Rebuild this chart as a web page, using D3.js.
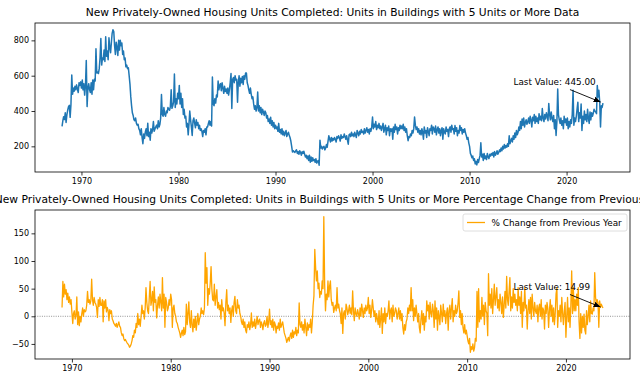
<!DOCTYPE html>
<html><head><meta charset="utf-8">
<script src="https://cdn.jsdelivr.net/npm/d3@7"></script>
<style>
body{margin:0;background:#fff;overflow:hidden;}
svg{display:block;font-family:"DejaVu Sans",sans-serif;}
</style>
</head><body>
<svg id="chart" width="640" height="384"></svg>
<script>
// ---------------- DATA ----------------
const unitsStartYear = 1968;   // monthly, Jan 1968 .. Oct 2023 (thousands of units, SAAR)
const units = [
/*1968*/ 313,345,368,352,390,335,378,405,425,432,364,436,
/*1969*/ 604,495,530,512,540,520,548,525,505,560,545,565,
/*1970*/ 530,575,520,555,490,545,686,425,530,555,520,505,
/*1971*/ 560,495,575,520,580,570,752,615,620,612,640,700,
/*1972*/ 810,660,700,690,745,680,820,710,740,690,815,760,
/*1973*/ 730,790,840,860,850,770,720,790,760,715,800,745,
/*1974*/ 800,770,785,720,740,690,700,650,660,640,645,600,
/*1975*/ 552,480,432,390,375,350,345,360,330,320,325,300,
/*1976*/ 290,265,300,250,215,270,245,280,300,260,330,255,
/*1977*/ 280,235,300,275,295,340,285,300,310,320,300,345,
/*1978*/ 310,325,360,494,380,370,420,380,370,400,390,420,
/*1979*/ 410,405,425,520,415,430,450,610,420,470,440,500,
/*1980*/ 470,545,440,500,420,470,380,410,360,370,310,330,
/*1981*/ 265,330,400,350,310,262,345,360,330,305,350,320,
/*1982*/ 335,300,320,290,300,285,255,290,280,300,265,310,
/*1983*/ 310,330,345,320,340,315,592,440,430,470,445,490,
/*1984*/ 480,570,520,545,555,515,560,530,500,540,510,525,
/*1985*/ 500,530,490,520,560,612,414,580,590,560,600,575,
/*1986*/ 580,450,560,600,540,585,560,595,550,600,580,615,
/*1987*/ 615,560,545,520,500,530,495,470,480,440,410,430,
/*1988*/ 400,420,507,400,430,390,420,380,410,395,375,400,
/*1989*/ 390,360,375,340,355,330,365,320,345,310,335,300,
/*1990*/ 320,300,310,285,330,280,295,270,300,265,285,260,
/*1991*/ 275,290,255,270,280,262,250,230,200,168,175,170,
/*1992*/ 165,175,180,160,170,155,175,165,150,170,160,172,
/*1993*/ 155,140,150,130,145,120,150,110,140,115,135,120,
/*1994*/ 125,110,130,105,115,120,93,235,190,200,185,195,
/*1995*/ 200,180,190,210,195,230,260,240,225,250,230,245,
/*1996*/ 235,250,240,225,255,245,260,250,230,265,245,255,
/*1997*/ 250,270,255,240,260,235,212,265,270,255,280,260,
/*1998*/ 270,255,280,265,250,290,275,260,285,270,295,280,
/*1999*/ 285,270,300,275,290,305,280,295,270,300,285,310,
/*2000*/ 366,300,325,310,340,295,320,305,330,300,315,290,
/*2001*/ 310,330,280,300,320,265,305,290,315,260,300,285,
/*2002*/ 300,240,310,280,325,295,310,270,305,290,320,300,
/*2003*/ 315,300,325,290,310,280,300,260,232,255,250,270,
/*2004*/ 260,290,275,300,366,320,295,310,280,300,270,290,
/*2005*/ 265,300,280,240,310,275,290,250,305,285,260,300,
/*2006*/ 290,320,270,310,300,280,315,265,295,310,275,300,
/*2007*/ 260,290,305,240,300,280,270,310,285,295,255,300,
/*2008*/ 310,280,320,295,300,270,318,285,305,260,290,275,
/*2009*/ 318,290,305,270,295,280,300,275,260,240,250,220,
/*2010*/ 200,160,150,135,145,120,130,100,115,95,125,108,
/*2011*/ 130,150,220,140,155,120,160,130,145,125,160,140,
/*2012*/ 130,155,145,160,150,165,140,170,150,160,175,155,
/*2013*/ 165,180,170,190,175,200,185,210,190,205,195,215,
/*2014*/ 200,260,215,230,245,225,260,240,275,250,290,265,
/*2015*/ 280,310,290,340,300,355,320,360,310,335,350,325,
/*2016*/ 340,360,330,370,350,310,365,345,380,330,370,340,
/*2017*/ 360,330,385,350,370,345,414,360,340,380,355,390,
/*2018*/ 370,345,443,380,350,395,360,340,375,300,350,262,
/*2019*/ 340,525,380,350,330,360,320,345,300,370,335,355,
/*2020*/ 320,360,300,340,310,350,330,380,517,320,360,340,
/*2021*/ 370,414,450,340,390,360,440,290,370,330,400,350,
/*2022*/ 380,340,410,360,330,395,350,390,370,387,410,400,
/*2023*/ 395,385,545,480,517,450,309,430,420,445
];

const pctStartYear = 1969;     // monthly, Jan 1969 .. Oct 2023 (% change from previous year)
const pctChange = [
/*1969*/ 16,63,35,58,40,48,30,42,25,35,22,30,
/*1970*/ 7,-13,5,10,-5,2,35,-15,8,-17,0,-10,
/*1971*/ 5,15,0,12,8,10,20,45,25,30,22,28,
/*1972*/ 67,30,20,34,25,22,16,-2,30,18,34,20,
/*1973*/ 20,30,-10,28,15,30,8,16,10,-8,12,5,
/*1974*/ 10,-5,-8,-13,-15,-18,-13,-20,-15,-10,-18,-20,
/*1975*/ -30,-35,-32,-40,-44,-42,-45,-48,-50,-52,-56,-54,
/*1976*/ -50,-44,-35,-38,-25,-30,-13,-20,5,-15,-5,-18,
/*1977*/ 0,20,5,10,-5,15,52,25,10,5,35,63,
/*1978*/ 20,30,45,10,53,25,30,-3,20,35,15,40,
/*1979*/ 25,10,70,15,40,-20,34,25,10,15,30,20,
/*1980*/ 40,30,-20,15,20,5,0,-10,-13,-20,-25,-30,
/*1981*/ -38,-30,-25,-35,-20,-33,-28,22,-15,5,26,-10,
/*1982*/ -20,10,-15,-28,-5,-20,0,-25,-10,5,-15,-5,
/*1983*/ 0,15,5,10,3,15,115,60,88,20,50,40,
/*1984*/ 60,90,50,30,28,58,20,35,48,15,25,12,
/*1985*/ 20,-5,30,10,15,5,-17,25,48,10,20,5,
/*1986*/ 15,-11,10,19,0,25,36,10,5,30,15,20,
/*1987*/ 5,0,-10,-15,-5,-20,-10,-25,-30,-15,-20,-10,
/*1988*/ -24,-15,6,-20,-10,-18,-5,-22,-12,0,-15,-8,
/*1989*/ -5,-20,-10,-15,-24,-12,-8,-18,-15,0,-20,-10,
/*1990*/ 13,-15,-8,-20,-5,-25,-10,-15,-30,-18,-22,-12,
/*1991*/ -25,-5,-20,-15,-10,-20,-30,-35,-40,-47,-42,-38,
/*1992*/ -45,-35,-30,-40,-25,-38,-28,-32,-20,-35,-25,-30,
/*1993*/ 24,-15,-20,-10,-25,-15,-30,-5,-20,-35,-12,-25,
/*1994*/ -15,-20,-5,-30,-10,20,37,121,88,64,82,50,
/*1995*/ 60,34,45,40,64,50,180,58,10,40,30,64,
/*1996*/ 35,55,64,30,20,25,7,15,20,10,52,15,
/*1997*/ 22,10,5,-13,15,-31,5,10,-5,22,15,3,
/*1998*/ 10,20,5,15,3,46,10,-8,15,5,0,12,
/*1999*/ 5,-5,15,0,22,10,-2,15,5,20,10,15,
/*2000*/ 34,5,20,-2,10,30,15,0,10,-10,5,-5,
/*2001*/ -15,10,-20,-5,15,-31,5,-10,15,-13,5,0,
/*2002*/ 10,28,-5,10,15,-10,20,0,5,15,10,-5,
/*2003*/ 5,15,-5,10,-8,5,-20,-32,-15,-25,-10,-5,
/*2004*/ 15,5,20,10,52,10,30,-8,15,0,20,5,
/*2005*/ -10,5,-20,-30,-5,10,-15,5,-25,0,-10,28,
/*2006*/ 10,20,-5,25,5,-1,22,10,-20,28,-5,15,
/*2007*/ -25,10,0,-15,20,5,-10,22,0,10,-13,5,
/*2008*/ 15,-25,10,20,-5,15,32,-10,10,0,20,5,
/*2009*/ 10,25,46,-2,10,-15,5,-20,-30,-15,-32,-25,
/*2010*/ -35,-45,-50,-40,-65,-55,-60,-50,-63,-57,-40,-45,
/*2011*/ 45,-20,50,-10,10,-5,34,0,20,-15,25,10,
/*2012*/ 5,-35,77,20,40,15,50,5,30,58,20,35,
/*2013*/ 52,15,30,10,40,25,5,35,-2,20,45,15,
/*2014*/ 72,30,20,45,70,10,35,15,50,25,40,20,
/*2015*/ 30,10,52,20,35,5,45,-20,25,10,52,15,
/*2016*/ 20,-23,10,30,5,34,-5,40,15,0,25,10,
/*2017*/ 5,20,-10,15,22,0,30,-5,15,10,-23,20,
/*2018*/ 5,25,15,-20,10,30,0,20,-10,15,-15,5,
/*2019*/ 40,52,-20,10,0,20,-10,34,5,-15,10,25,
/*2020*/ -38,0,34,-10,15,-20,20,82,5,52,10,30,
/*2021*/ 10,40,20,52,-10,-40,5,-30,0,-20,4,-25,
/*2022*/ -32,10,-15,0,20,-10,28,5,4,15,10,79,
/*2023*/ 34,22,30,25,-20,28,16,22,18,14.99
];

const xTickYears = [1970, 1980, 1990, 2000, 2010, 2020];
const yTicksTop = [200, 400, 600, 800];
const yTicksBottom = [-50, 0, 50, 100, 150];
const titleTop = "New Privately-Owned Housing Units Completed: Units in Buildings with 5 Units or More Data";
const titleBottom = "New Privately-Owned Housing Units Completed: Units in Buildings with 5 Units or More Percentage Change from Previous Year";
const legendLabel = "% Change from Previous Year";

// ---------------- DRAWING ----------------
const svg = d3.select("#chart");
const left = 35, right = 630;
const topBox = {y0: 23, y1: 172};
const botBox = {y0: 210, y1: 359};
const BLUE = "#1f77b4", ORANGE = "#ffa500";
const TITLE_FS = 10.7, TICK_FS = 8, TEXT_FS = 8.85;

const unitsData = units.map((v, i) => ({date: new Date(unitsStartYear, i, 1), v}));
const pctData = pctChange.map((v, i) => ({date: new Date(pctStartYear, i, 1), v}));

function padded(ext) {
  const a = +ext[0], b = +ext[1], m = (b - a) * 0.05;
  return [a - m, b + m];
}

const defs = svg.append("defs");
defs.append("marker").attr("id", "arrow")
  .attr("viewBox", "0 0 10 10").attr("refX", 10).attr("refY", 5)
  .attr("markerWidth", 7).attr("markerHeight", 7).attr("markerUnits", "userSpaceOnUse")
  .attr("orient", "auto")
  .append("path").attr("d", "M0,1 L10,5 L0,9 Z").attr("fill", "#000");

function panel(data, box, yTicks, color, lw, title, annot, opts) {
  const tExt = padded(d3.extent(data, d => d.date).map(d => +d));
  const x = d3.scaleTime().domain([new Date(tExt[0]), new Date(tExt[1])]).range([left, right]);
  const y = d3.scaleLinear().domain(padded(d3.extent(data, d => d.v))).range([box.y1, box.y0]);
  const g = svg.append("g");

  // title
  g.append("text").attr("x", (left + right) / 2).attr("y", box.y0 - 7.5)
    .attr("text-anchor", "middle").attr("font-size", TITLE_FS).attr("fill", "#000").text(title);

  if (opts.zeroLine) {
    g.append("line").attr("x1", left).attr("x2", right).attr("y1", y(0)).attr("y2", y(0))
      .attr("stroke", "#666").attr("stroke-width", 0.7).attr("stroke-dasharray", "1,1.3");
  }

  // line
  const line = d3.line().x(d => x(d.date)).y(d => y(d.v));
  g.append("path").datum(data).attr("d", line).attr("fill", "none")
    .attr("stroke", color).attr("stroke-width", lw).attr("stroke-linejoin", "round");

  // axes
  const xAxis = d3.axisBottom(x).tickValues(xTickYears.map(yr => new Date(yr, 0, 1)))
    .tickFormat(d3.timeFormat("%Y")).tickSize(3.5).tickPadding(2.5);
  const gx = g.append("g").attr("transform", `translate(0,${box.y1})`).call(xAxis);
  const yAxis = d3.axisLeft(y).tickValues(yTicks)
    .tickFormat(v => (v < 0 ? "\u2212" + Math.abs(v) : String(v))).tickSize(3.5).tickPadding(2.5);
  const gy = g.append("g").attr("transform", `translate(${left},0)`).call(yAxis);
  [gx, gy].forEach(a => {
    a.select(".domain").remove();
    a.selectAll("text").attr("font-size", TICK_FS).attr("fill", "#000").attr("font-family", "DejaVu Sans");
    a.selectAll("line").attr("stroke", "#000").attr("stroke-width", 0.8);
  });

  // frame
  g.append("rect").attr("x", left).attr("y", box.y0).attr("width", right - left)
    .attr("height", box.y1 - box.y0).attr("fill", "none").attr("stroke", "#000").attr("stroke-width", 0.8);

  // annotation: text offset from the last point, arrow from below the text to the point
  const last = data[data.length - 1];
  const px = x(last.date), py = y(last.v);
  g.append("text").attr("x", px - 89.5).attr("y", py - 18.5)
    .attr("font-size", TEXT_FS).attr("fill", "#000").text(annot + last.v.toFixed(2));
  const sx = px - 33, sy = py - 13.5;
  const len = Math.hypot(px - sx, py - sy);
  const ex = px - (px - sx) * 2.5 / len, ey = py - (py - sy) * 2.5 / len;
  g.append("line").attr("x1", sx).attr("y1", sy).attr("x2", ex).attr("y2", ey)
    .attr("stroke", "#000").attr("stroke-width", 0.9).attr("marker-end", "url(#arrow)");

  if (opts.legend) {
    const lg = g.append("g");
    lg.append("rect").attr("x", 463).attr("y", box.y0 + 4).attr("width", 164).attr("height", 17)
      .attr("rx", 2).attr("fill", "#fff").attr("fill-opacity", 0.8).attr("stroke", "#d6d6d6").attr("stroke-width", 0.8);
    lg.append("line").attr("x1", 467).attr("x2", 485).attr("y1", box.y0 + 12.5).attr("y2", box.y0 + 12.5)
      .attr("stroke", color).attr("stroke-width", lw);
    lg.append("text").attr("x", 491.5).attr("y", box.y0 + 15.8).attr("font-size", TEXT_FS).attr("fill", "#000").text(legendLabel);
  }
}

panel(unitsData, topBox, yTicksTop, BLUE, 1.5, titleTop, "Last Value: ", {zeroLine: false, legend: false});
panel(pctData, botBox, yTicksBottom, ORANGE, 1.3, titleBottom, "Last Value: ", {zeroLine: true, legend: true});
</script>
</body></html>
